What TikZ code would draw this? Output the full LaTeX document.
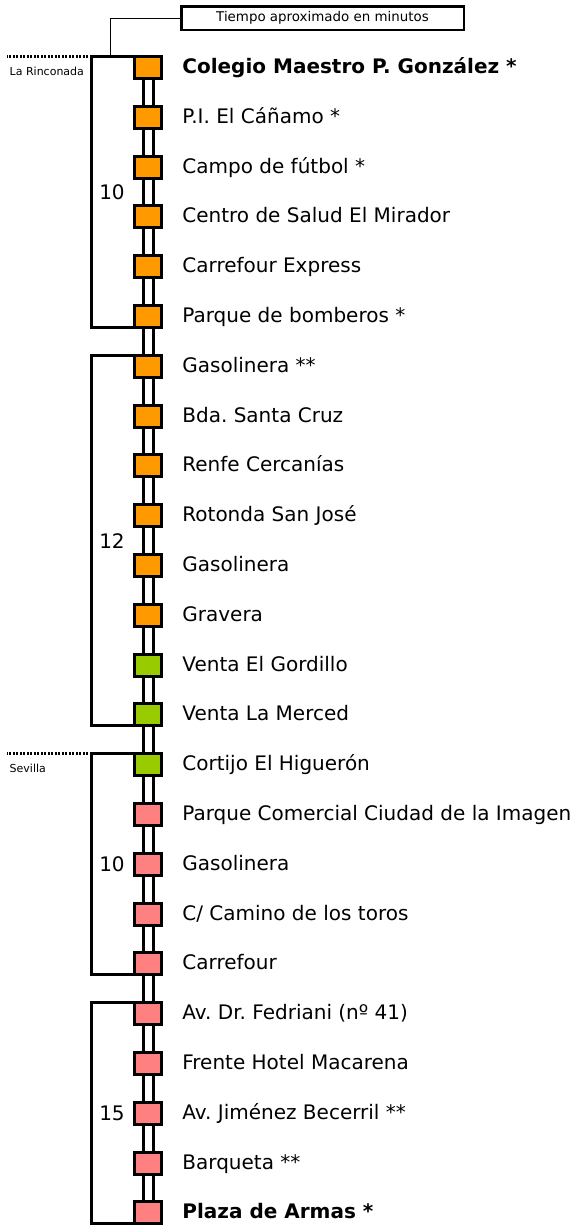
\documentclass[tikz,border=0pt]{standalone}
\usepackage{fontspec}
\setmainfont{DejaVu Sans}
\usetikzlibrary{positioning}
\definecolor{stoporange}{RGB}{255,153,0}
\definecolor{stopgreen}{RGB}{153,204,0}
\definecolor{stoppink}{RGB}{255,128,128}
\frenchspacing

\begin{document}
\begin{tikzpicture}[x=1pt,y=-1pt,node distance=27.8pt,
    stop/.style={rectangle, draw, line width=3pt, inner sep=0pt, outer sep=0pt, minimum width=26.4pt, minimum height=22pt},
    zoneA/.style={stop, fill=stoporange},
    zoneB/.style={stop, fill=stopgreen},
    zoneC/.style={stop, fill=stoppink},
    stoptext/.style={inner sep=0pt, anchor=base west, yshift=-6pt, font=\fontsize{20}{24}\selectfont},
    rail/.style={double, double distance=7pt, line width=3pt, shorten <=1.5pt, shorten >=1.5pt},
    bracket/.style={line width=3pt},
    limit/.style={line width=2.5pt, dash pattern=on 2pt off 1.5pt},
    place/.style={inner sep=0pt, anchor=base west, font=\fontsize{11}{13}\selectfont},
    minutes/.style={inner sep=0pt, font=\fontsize{20}{24}\selectfont},
    headbox/.style={draw, line width=2.5pt, inner sep=0pt, minimum width=282.5pt, minimum height=23.5pt, font=\fontsize{13.4}{16}\selectfont}]
        \useasboundingbox (0,0) rectangle (576,1229);

        % Stops
        \node [zoneA] at (148,67.5) (s1) {};
        \node [zoneA,below=of s1] (s2) {};
        \node [zoneA,below=of s2] (s3) {};
        \node [zoneA,below=of s3] (s4) {};
        \node [zoneA,below=of s4] (s5) {};
        \node [zoneA,below=of s5] (s6) {};
        \node [zoneA,below=of s6] (s7) {};
        \node [zoneA,below=of s7] (s8) {};
        \node [zoneA,below=of s8] (s9) {};
        \node [zoneA,below=of s9] (s10) {};
        \node [zoneA,below=of s10] (s11) {};
        \node [zoneA,below=of s11] (s12) {};
        \node [zoneB,below=of s12] (s13) {};
        \node [zoneB,below=of s13] (s14) {};
        \node [zoneB,below=of s14] (s15) {};
        \node [zoneC,below=of s15] (s16) {};
        \node [zoneC,below=of s16] (s17) {};
        \node [zoneC,below=of s17] (s18) {};
        \node [zoneC,below=of s18] (s19) {};
        \node [zoneC,below=of s19] (s20) {};
        \node [zoneC,below=of s20] (s21) {};
        \node [zoneC,below=of s21] (s22) {};
        \node [zoneC,below=of s22] (s23) {};
        \node [zoneC,below=of s23] (s24) {};

        % Stop names
        \node [right=21pt of s1,stoptext] (t1) {\textbf{Colegio Maestro P. González *}};
        \node [right=21pt of s2,stoptext] (t2) {P.I. El Cáñamo *};
        \node [right=21pt of s3,stoptext] (t3) {Campo de fútbol *};
        \node [right=21pt of s4,stoptext] (t4) {Centro de Salud El Mirador};
        \node [right=21pt of s5,stoptext] (t5) {Carrefour Express};
        \node [right=21pt of s6,stoptext] (t6) {Parque de bomberos *};
        \node [right=21pt of s7,stoptext] (t7) {Gasolinera **};
        \node [right=21pt of s8,stoptext] (t8) {Bda. Santa Cruz};
        \node [right=21pt of s9,stoptext] (t9) {Renfe Cercanías};
        \node [right=21pt of s10,stoptext] (t10) {Rotonda San José};
        \node [right=21pt of s11,stoptext] (t11) {Gasolinera};
        \node [right=21pt of s12,stoptext] (t12) {Gravera};
        \node [right=21pt of s13,stoptext] (t13) {Venta El Gordillo};
        \node [right=21pt of s14,stoptext] (t14) {Venta La Merced};
        \node [right=21pt of s15,stoptext] (t15) {Cortijo El Higuerón};
        \node [right=21pt of s16,stoptext] (t16) {Parque Comercial Ciudad de la Imagen};
        \node [right=21pt of s17,stoptext] (t17) {Gasolinera};
        \node [right=21pt of s18,stoptext] (t18) {C/ Camino de los toros};
        \node [right=21pt of s19,stoptext] (t19) {Carrefour};
        \node [right=21pt of s20,stoptext] (t20) {Av. Dr. Fedriani (nº 41)};
        \node [right=21pt of s21,stoptext] (t21) {Frente Hotel Macarena};
        \node [right=21pt of s22,stoptext] (t22) {Av. Jiménez Becerril **};
        \node [right=21pt of s23,stoptext] (t23) {Barqueta **};
        \node [right=21pt of s24,stoptext] (t24) {\textbf{Plaza de Armas *}};

        % Rails
        \draw[rail] (s1.south) -- (s2.north);
        \draw[rail] (s2.south) -- (s3.north);
        \draw[rail] (s3.south) -- (s4.north);
        \draw[rail] (s4.south) -- (s5.north);
        \draw[rail] (s5.south) -- (s6.north);
        \draw[rail] (s6.south) -- (s7.north);
        \draw[rail] (s7.south) -- (s8.north);
        \draw[rail] (s8.south) -- (s9.north);
        \draw[rail] (s9.south) -- (s10.north);
        \draw[rail] (s10.south) -- (s11.north);
        \draw[rail] (s11.south) -- (s12.north);
        \draw[rail] (s12.south) -- (s13.north);
        \draw[rail] (s13.south) -- (s14.north);
        \draw[rail] (s14.south) -- (s15.north);
        \draw[rail] (s15.south) -- (s16.north);
        \draw[rail] (s16.south) -- (s17.north);
        \draw[rail] (s17.south) -- (s18.north);
        \draw[rail] (s18.south) -- (s19.north);
        \draw[rail] (s19.south) -- (s20.north);
        \draw[rail] (s20.south) -- (s21.north);
        \draw[rail] (s21.south) -- (s22.north);
        \draw[rail] (s22.south) -- (s23.north);
        \draw[rail] (s23.south) -- (s24.north);

        % Brackets with minutes
        \coordinate (b1) at ([xshift=-43.3pt]s1.north west);
        \coordinate (b2) at ([xshift=-43.3pt]s7.north west);
        \coordinate (b3) at ([xshift=-43.3pt]s15.north west);
        \coordinate (b4) at ([xshift=-43.3pt]s20.north west);
        \draw[bracket] (s1.north west) -- (b1) |- (s6.south west);
        \draw[bracket] (s7.north west) -- (b2) |- (s14.south west);
        \draw[bracket] (s15.north west) -- (b3) |- (s19.south west);
        \draw[bracket] (s20.north west) -- (b4) |- (s24.south west);
        \path (b1) -- node[minutes,xshift=20.5pt]{10} (b1 |- s6.south);
        \path (b2) -- node[minutes,xshift=20.5pt]{12} (b2 |- s14.south);
        \path (b3) -- node[minutes,xshift=20.5pt]{10} (b3 |- s19.south);
        \path (b4) -- node[minutes,xshift=20.5pt]{15} (b4 |- s24.south);

        % Town limits
        \coordinate (d1) at ([xshift=-85pt]b1);
        \coordinate (d3) at ([xshift=-85pt]b3);
        \draw[limit] (b1) -- (d1);
        \draw[limit] (b3) -- (d3);
        \node [place] at ([xshift=3pt,yshift=-18.5pt]d1) (rinconada) {La Rinconada};
        \node [place] at ([xshift=3pt,yshift=-18.5pt]d3) (sevilla) {Sevilla};

        % Legend
        \node [headbox] at (322.5,18) (tiempo) {Tiempo aproximado en minutos};
        \draw[line width=1pt] (tiempo.west) -| ([xshift=18.5pt]b1);

\end{tikzpicture}
\end{document}
